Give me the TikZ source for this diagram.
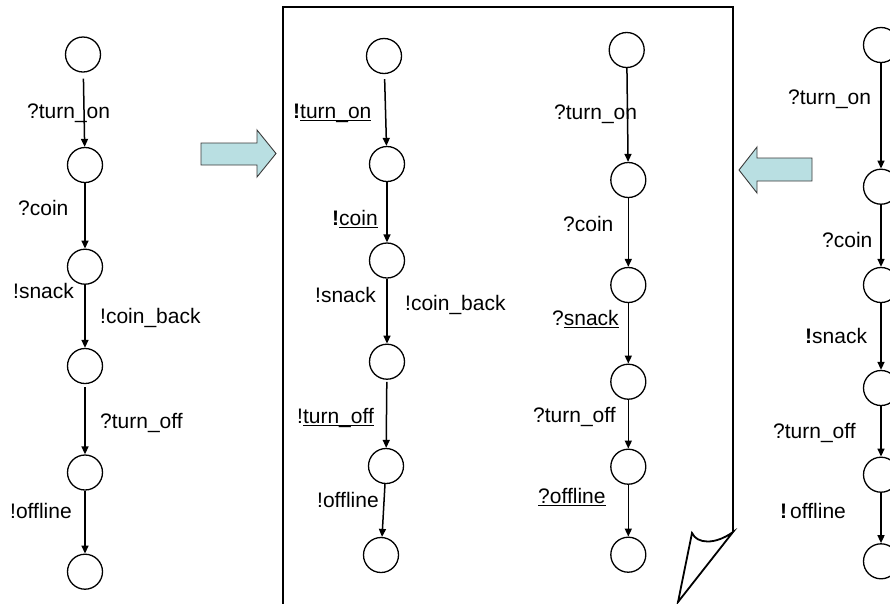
\documentclass[tikz,border=0pt]{standalone}
\usepackage{fontspec}
\setmainfont{Liberation Sans}
\usetikzlibrary{arrows.meta}
\definecolor{arrowfill}{HTML}{B9DFE2}
\definecolor{arrowline}{HTML}{3A3A3A}
\newcommand{\myul}[1]{\mbox{\setbox0\hbox{#1}\rlap{\rule[-3.3pt]{\wd0}{1.8pt}}\box0}}
\begin{document}
\begin{tikzpicture}[x=1pt,y=-1pt,
  state/.style={circle,draw,line width=1.3pt,minimum size=35pt,inner sep=0pt},
  lbl/.style={anchor=base west,inner sep=0pt,font=\fontsize{21}{25}\selectfont},
  trans/.style={-{Triangle[length=8pt,width=7pt]},line width=1.5pt},
  blockarrow/.style={fill=arrowfill,draw=arrowline,line width=0.9pt,line join=miter},
  page/.style={line width=1.8pt,line join=miter}]
\useasboundingbox (0,0) rectangle (890,603);
\clip (0,0) rectangle (890,603);

% ---------- left column ----------
\node[state] (L1) at (83,54.5) {};
\node[state] (L2) at (85,165) {};
\node[state] (L3) at (85,266.7) {};
\node[state] (L4) at (85,366) {};
\node[state] (L5) at (85,472.5) {};
\node[state] (L6) at (85,571.7) {};
\draw[trans,shorten <=6pt] (L1) -- (L2);
\draw[trans] (L2) -- (L3);
\draw[trans] (L3) -- (L4);
\draw[trans,shorten <=3pt] (L4) -- (L5);
\draw[trans] (L5) -- (L6);
\node[lbl] (la) at (27,118) {?turn\_on};
\node[lbl] (lb) at (18,215) {?coin};
\node[lbl] (lc) at (13,298) {!snack};
\node[lbl] (ld) at (100,323) {!coin\_back};
\node[lbl] (le) at (100,428) {?turn\_off};
\node[lbl] (lf) at (10,518) {!offline};

% ---------- block arrows ----------
\draw[blockarrow] (201,143) -- (257,143) -- (257,130) -- (276,153.5) -- (257,177) -- (257,165) -- (201,165) -- cycle;
\draw[blockarrow] (812,158) -- (757,158) -- (757,147) -- (739,170) -- (757,193) -- (757,181) -- (812,181) -- cycle;

% ---------- page ----------
\draw[page] (283,610) -- (283,7) -- (733,7) -- (733,532);
\draw[page] (733,532) .. controls (715,545) and (697,544) .. (692,533) -- (678,602) -- cycle;

% ---------- middle column A ----------
\node[state] (M1) at (384,56) {};
\node[state] (M2) at (387,164) {};
\node[state] (M3) at (387,260.5) {};
\node[state] (M4) at (387,361.7) {};
\node[state] (M5) at (386,466) {};
\node[state] (M6) at (381,555) {};
\draw[trans,shorten <=5pt] (M1) -- (M2);
\draw[trans] (M2) -- (M3);
\draw[trans] (M3) -- (M4);
\draw[trans,shorten <=2pt] (M4) -- (M5);
\draw[trans] (M5) -- (M6);
\node[lbl] (ma) at (293,118) {\textbf{!}\myul{turn\_on}};
\node[lbl] (mb) at (332,225) {\textbf{!}\myul{coin}};
\node[lbl] (mc) at (315,302) {!snack};
\node[lbl] (md) at (405,310) {!coin\_back};
\node[lbl] (me) at (297,423) {!\myul{turn\_off}};
\node[lbl] (mf) at (317,507) {!offline};

% ---------- middle column B ----------
\node[state] (N1) at (626.7,50) {};
\node[state] (N2) at (628.3,180) {};
\node[state] (N3) at (628.3,285) {};
\node[state] (N4) at (628.3,381.7) {};
\node[state] (N5) at (628.3,466.7) {};
\node[state] (N6) at (628.3,554.7) {};
\draw[trans] (N1) -- (N2);
\draw[trans] (N2) -- (N3);
\draw[trans] (N3) -- (N4);
\draw[trans] (N4) -- (N5);
\draw[trans] (N5) -- (N6);
\node[lbl] (na) at (554,119) {?turn\_on};
\node[lbl] (nb) at (563,231) {?coin};
\node[lbl] (nc) at (552,325) {?\myul{snack}};
\node[lbl] (nd) at (533,422) {?turn\_off};
\node[lbl] (ne) at (538,503) {\myul{?offline}};

% ---------- right column ----------
\node[state] (R1) at (881,45) {};
\node[state] (R2) at (881,186.7) {};
\node[state] (R3) at (881,285) {};
\node[state] (R4) at (881,388) {};
\node[state] (R5) at (881,474.7) {};
\node[state] (R6) at (881,561.3) {};
\draw[trans] (R1) -- (R2);
\draw[trans] (R2) -- (R3);
\draw[trans] (R3) -- (R4);
\draw[trans] (R4) -- (R5);
\draw[trans] (R5) -- (R6);
\node[lbl] (ra) at (788,104) {?turn\_on};
\node[lbl] (rb) at (822,247) {?coin};
\node[lbl] (rc) at (805,343) {\textbf{!}snack};
\node[lbl] (rd) at (773,438) {?turn\_off};
\node[lbl] (re) at (780,518) {\textbf{!}\hspace{3pt}offline};
\end{tikzpicture}
\end{document}
